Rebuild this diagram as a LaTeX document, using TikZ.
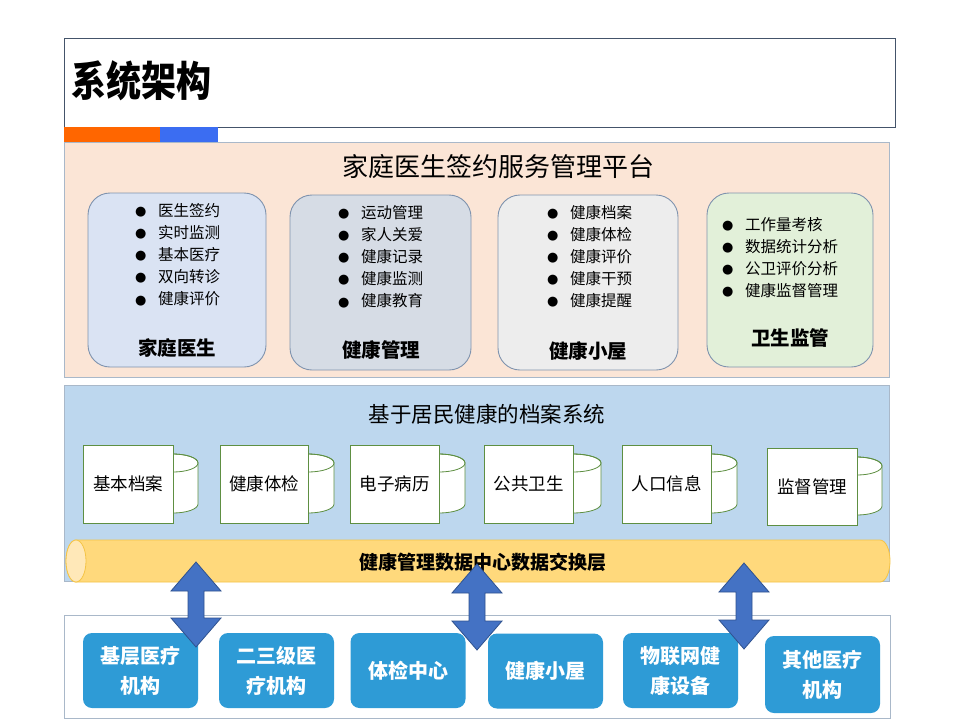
\documentclass[tikz,border=0pt]{standalone}
\usepackage{fontspec}
\newfontfamily\cjk{Noto Sans CJK SC}
\newfontfamily\dejavu{DejaVu Sans}
\definecolor{frameblue}{HTML}{44546A}
\definecolor{panelline}{HTML}{A9B8C9}
\definecolor{peach}{HTML}{FBE5D6}
\definecolor{skyblue}{HTML}{BDD7EE}
\definecolor{orangebar}{HTML}{FF6600}
\definecolor{bluebar}{HTML}{3B6DF2}
\definecolor{cA}{HTML}{DAE3F3}
\definecolor{cB}{HTML}{D6DCE5}
\definecolor{cC}{HTML}{EDEDED}
\definecolor{cD}{HTML}{E2F0D9}
\definecolor{boxline}{HTML}{7F93AE}
\definecolor{archline}{HTML}{5E8F42}
\definecolor{pipefill}{HTML}{FFD97C}
\definecolor{pipeline}{HTML}{F5C445}
\definecolor{pipeend}{HTML}{FFE8B8}
\definecolor{instblue}{HTML}{2E9BD6}
\definecolor{arrowfill}{HTML}{4472C4}
\definecolor{arrowline}{HTML}{2F528F}
\newcommand\bul{\makebox[23pt][l]{\raisebox{0.8pt}{\dejavu\fontsize{13}{13}\selectfont ●}}}
\newcommand\archcyl[4]{%
  \filldraw[draw=archline, fill=white, line width=0.8pt] (#1-#2,#3) -- (#1-#2,#4)
    arc[start angle=180, end angle=0, x radius=#2, y radius=9] -- (#1+#2,#3)
    arc[start angle=0, end angle=-180, x radius=#2, y radius=9] -- cycle;
  \draw[archline, line width=0.8pt] (#1,#3) ellipse [x radius=#2, y radius=9];}
\newcommand\dblarrow[4]{%
  \filldraw[fill=arrowfill, draw=arrowline, line width=0.8pt] (#2,#3) -- (#2+25,#3+29) -- (#2+8,#3+29) -- (#2+8,#4-29)
    -- (#2+25,#4-29) -- (#2,#4) -- (#2-25,#4-29) -- (#2-8,#4-29) -- (#2-8,#3+29) -- (#2-25,#3+29) -- cycle;
  \coordinate (#1) at (#2,{(#3+#4)/2});}
\begin{document}
\begin{tikzpicture}[x=1pt,y=-1pt,
  panel/.style={draw=panelline, line width=0.8pt, anchor=north west, inner sep=0pt},
  modbox/.style={draw=boxline, line width=0.9pt, rounded corners=22pt, inner sep=0pt},
  modlabel/.style={font=\cjk\bfseries\fontsize{19.5}{22}\selectfont, inner sep=0pt},
  item/.style={anchor=base west, inner sep=0pt, font=\cjk\fontsize{15.5}{18}\selectfont},
  archbox/.style={draw=archline, fill=white, line width=0.9pt, minimum width=90pt, minimum height=78pt, inner sep=0pt, font=\cjk\fontsize{17.5}{20}\selectfont},
  inst/.style={fill=instblue, rounded corners=9pt, minimum width=115pt, minimum height=75pt, inner sep=0pt, text=white, align=center, font=\cjk\bfseries\fontsize{20}{30}\selectfont}]
\useasboundingbox (0,0) rectangle (960,720);
\fill[white] (0,0) rectangle (960,720);

% title
\node[draw=frameblue, line width=1pt, anchor=north west, minimum width=831pt, minimum height=89pt, inner sep=0pt] (titlebox) at (64,38) {};
\node[anchor=west, inner sep=0pt, font=\cjk\bfseries\fontsize{35}{35}\selectfont] (title) at (71,81) {\scalebox{1}[1.18]{系统架构}};
\fill[orangebar] (64,127) rectangle (160,142);
\fill[bluebar] (160,127) rectangle (218,142);

% platform panel
\node[panel, fill=peach, minimum width=825pt, minimum height=235pt] (platform) at (64,142) {};
\node[inner sep=0pt, font=\cjk\fontsize{26}{28}\selectfont] (ptitle) at (498,167) {家庭医生签约服务管理平台};

\node[modbox, fill=cA, minimum width=178pt, minimum height=174pt] (fd) at (177,280) {};
\node[modbox, fill=cB, minimum width=181pt, minimum height=175pt] (hm) at (380.5,282.5) {};
\node[modbox, fill=cC, minimum width=180pt, minimum height=175pt] (hh) at (588,282.5) {};
\node[modbox, fill=cD, minimum width=166pt, minimum height=174pt] (ws) at (790,280) {};

\foreach \t [count=\i] in {医生签约,实时监测,基本医疗,双向转诊,健康评价}
  \node[item] (fd\i) at (135,{210+22.2*(\i-1)+6}) {\bul\t};
\foreach \t [count=\i] in {运动管理,家人关爱,健康记录,健康监测,健康教育}
  \node[item] (hm\i) at (338,{212+22.2*(\i-1)+6}) {\bul\t};
\foreach \t [count=\i] in {健康档案,健康体检,健康评价,健康干预,健康提醒}
  \node[item] (hh\i) at (547,{212+22*(\i-1)+6}) {\bul\t};
\foreach \t [count=\i] in {工作量考核,数据统计分析,公卫评价分析,健康监督管理}
  \node[item] (ws\i) at (722,{224+22*(\i-1)+6}) {\bul\t};

\node[modlabel] (fdl) at (177,348) {家庭医生};
\node[modlabel] (hml) at (381,350) {健康管理};
\node[modlabel] (hhl) at (588,351) {健康小屋};
\node[modlabel] (wsl) at (790,338) {卫生监管};

% archive panel
\node[panel, fill=skyblue, minimum width=825pt, minimum height=196pt] (archive) at (64,385) {};
\node[inner sep=0pt, font=\cjk\fontsize{21.5}{24}\selectfont] (atitle) at (487,414) {基于居民健康的档案系统};

\archcyl{173}{25}{463}{504}
\archcyl{308}{26}{463}{504}
\archcyl{439}{26}{463}{504}
\archcyl{573}{28}{463}{504}
\archcyl{711}{26}{463}{504}
\archcyl{857}{25}{466}{506}
\node[archbox] (a1) at (128,484) {基本档案};
\node[archbox, minimum width=88pt] (a2) at (264,484) {健康体检};
\node[archbox, minimum width=89pt] (a3) at (394.5,484) {电子病历};
\node[archbox, minimum width=89pt] (a4) at (528.5,484) {公共卫生};
\node[archbox, minimum width=89pt] (a5) at (666.5,484) {人口信息};
\node[archbox, minimum height=77pt] (a6) at (812,486.5) {监督管理};

% data exchange pipe
\filldraw[draw=pipeline, fill=pipefill, line width=0.8pt] (76,540) -- (880,540)
  arc[start angle=-90, end angle=90, x radius=10, y radius=21] -- (76,582)
  arc[start angle=90, end angle=270, x radius=10, y radius=21] -- cycle;
\filldraw[draw=pipeline, fill=pipeend, line width=0.8pt] (76,561) ellipse [x radius=10, y radius=21];
\node[inner sep=0pt, font=\cjk\bfseries\fontsize{19}{22}\selectfont] (pipe) at (483,562) {健康管理数据中心数据交换层};

% institutions panel
\node[panel, fill=white, minimum width=826pt, minimum height=103pt] (instpanel) at (64,615) {};
\node[inst] (i1) at (140.5,670.5) {基层医疗\\机构};
\node[inst] (i2) at (276.5,670.5) {二三级医\\疗机构};
\node[inst] (i3) at (408,670.5) {体检中心};
\node[inst] (i4) at (545.5,671) {健康小屋};
\node[inst] (i5) at (680.5,670.5) {物联网健\\康设备};
\node[inst, minimum height=77pt] (i6) at (822.5,674.5) {其他医疗\\机构};

% exchange arrows
\dblarrow{x1}{196}{562}{647}
\dblarrow{x2}{477}{564}{650}
\dblarrow{x3}{744}{563}{649}
\end{tikzpicture}
\end{document}
